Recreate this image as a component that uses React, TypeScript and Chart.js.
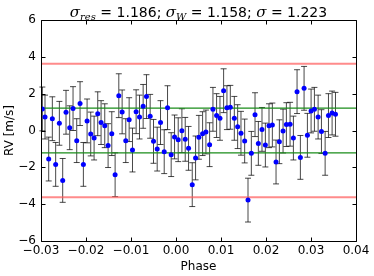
import { useEffect, useRef } from 'react';
import { Chart, registerables } from 'chart.js';
Chart.register(...registerables);

const PHASE = [
  -0.0297, -0.02911, -0.02829, -0.02748, -0.02674, -0.02592, -0.02518, -0.02444, -0.02362, -0.02288,
  -0.02206, -0.02132, -0.02058, -0.01976, -0.01895, -0.0182, -0.01739, -0.01665, -0.01583, -0.01509,
  -0.01427, -0.01353, -0.01271, -0.01197, -0.01116, -0.01041, -0.00967, -0.00886, -0.00811, -0.0073,
  -0.00656, -0.00574, -0.005, -0.00418, -0.00344, -0.00262, -0.00188, -0.00107, -0.00032, 0.00049,
  0.00131, 0.00205, 0.00279, 0.00361, 0.00435, 0.00509, 0.00591, 0.00665, 0.00747, 0.00821,
  0.00902, 0.00977, 0.01058, 0.01132, 0.01207, 0.01296, 0.0137, 0.01444, 0.01526, 0.016,
  0.01674, 0.01756, 0.0183, 0.01911, 0.01986, 0.02067, 0.02141, 0.02223, 0.02297, 0.02379,
  0.02453, 0.02535, 0.02609, 0.0269, 0.02764, 0.02846, 0.0292, 0.03002, 0.03076, 0.03158,
  0.03232, 0.03314, 0.03388, 0.03469, 0.03544,
];
const RV = [
  1.17, 0.73, -1.55, 0.64, -1.84, 0.39, -2.71, 0.99, 0.15, 1.19,
  -0.55, 1.46, -1.84, 0.52, -0.19, -0.41, 0.91, 0.43, 0.26, -0.82,
  -0.17, -2.4, 1.89, 1.01, -0.55, 0.59, -1.06, 1.02, 0.73, 1.31,
  1.84, 0.77, -0.59, -1.01, 0.43, -1.15, 1.24, -1.31, -0.35, -0.5,
  -0.01, -0.48, -0.97, -2.94, -1.49, -0.37, -0.17, -0.08, -0.77, 1.15,
  0.81, 0.66, 2.16, 1.24, 1.26, 0.66, 0.21, -0.15, -0.57, -3.78,
  -1.24, 0.86, -0.7, 0.06, -0.79, 0.26, 0.3, -1.71, -0.61, -0.03,
  0.32, 0.34, -0.41, 2.11, -1.46, 2.29, -0.26, 1.06, 1.15, 0.73,
  -0.06, -1.24, 0.81, 0.95, 0.88,
];
const RV_ERR = 1.19;
const SIGMA_LEVEL = 1.21;
const THREE_SIGMA_LEVEL = 3.63;
const X_RANGE = [-0.03, 0.04];
const Y_RANGE = [-6, 6];
const TITLE_PARTS = [
  { text: '\u03c3', kind: 'math' },
  { text: 'res', kind: 'sub' },
  { text: ' = 1.186; ', kind: 'plain' },
  { text: '\u03c3', kind: 'math' },
  { text: 'W', kind: 'sub' },
  { text: ' = 1.158; ', kind: 'plain' },
  { text: '\u03c3', kind: 'math' },
  { text: ' = 1.223', kind: 'plain' },
];

const minus = (s: string) => s.replace('-', '\u2212');

const errorBarPlugin = {
  id: 'errorBars',
  beforeDatasetsDraw(chart: any) {
    const { ctx, scales } = chart;
    const xs = scales.x;
    const ys = scales.y;
    ctx.save();
    ctx.strokeStyle = 'rgba(0,0,0,0.72)';
    ctx.lineWidth = 1;
    for (let i = 0; i < PHASE.length; i++) {
      const px = xs.getPixelForValue(PHASE[i]);
      const top = ys.getPixelForValue(RV[i] + RV_ERR);
      const bot = ys.getPixelForValue(RV[i] - RV_ERR);
      ctx.beginPath();
      ctx.moveTo(px, top);
      ctx.lineTo(px, bot);
      ctx.moveTo(px - 3, top);
      ctx.lineTo(px + 3, top);
      ctx.moveTo(px - 3, bot);
      ctx.lineTo(px + 3, bot);
      ctx.stroke();
    }
    ctx.restore();
  },
};

const framePlugin = {
  id: 'frame',
  afterDraw(chart: any) {
    const { ctx, chartArea: a, scales } = chart;
    ctx.save();
    ctx.strokeStyle = '#000';
    ctx.lineWidth = 1;
    ctx.beginPath();
    const L = Math.round(a.left) + 0.5;
    const R = Math.round(a.right) + 0.5;
    const T = Math.round(a.top) + 0.5;
    const B = Math.round(a.bottom) + 0.5;
    ctx.rect(L, T, R - L, B - T);
    scales.y.ticks.forEach((t: any) => {
      const p = Math.round(scales.y.getPixelForValue(t.value)) + 0.5;
      ctx.moveTo(L, p); ctx.lineTo(L + 4, p);
      ctx.moveTo(R, p); ctx.lineTo(R - 4, p);
    });
    scales.x.ticks.forEach((t: any) => {
      const p = Math.round(scales.x.getPixelForValue(t.value)) + 0.5;
      ctx.moveTo(p, B); ctx.lineTo(p, B - 4);
      ctx.moveTo(p, T); ctx.lineTo(p, T + 4);
    });
    ctx.stroke();

    const fonts: Record<string, string> = {
      math: 'italic 15px "DejaVu Serif"',
      sub: 'italic 10px "DejaVu Serif"',
      plain: '14px "DejaVu Sans"',
    };
    let total = 0;
    TITLE_PARTS.forEach((p) => {
      ctx.font = fonts[p.kind];
      total += ctx.measureText(p.text).width;
    });
    let x = (a.left + a.right) / 2 - total / 2;
    const base = 16.5;
    ctx.fillStyle = '#000';
    ctx.textBaseline = 'alphabetic';
    ctx.textAlign = 'left';
    TITLE_PARTS.forEach((p) => {
      ctx.font = fonts[p.kind];
      ctx.fillText(p.text, x, p.kind === 'sub' ? base + 3 : base);
      x += ctx.measureText(p.text).width;
    });
    ctx.restore();
  },
};

export default function App() {
  const ref = useRef<HTMLCanvasElement | null>(null);
  useEffect(() => {
    document.body.style.margin = '0';
    const canvas = ref.current;
    if (!canvas) return;
    const font = { family: '"DejaVu Sans"', size: 12 };
    const chart = new Chart(canvas, {
      type: 'scatter',
      data: {
        datasets: [
          {
            type: 'scatter',
            data: PHASE.map((p, i) => ({ x: p, y: RV[i] })),
            backgroundColor: '#0000ff',
            borderWidth: 0,
            pointRadius: 2.5,
            order: 0,
          },
          ...[SIGMA_LEVEL, -SIGMA_LEVEL].map((v) => ({
            type: 'line' as const,
            data: [{ x: X_RANGE[0], y: v }, { x: X_RANGE[1], y: v }],
            borderColor: '#1a8c1a',
            borderWidth: 1.3,
            pointRadius: 0,
            order: 1,
          })),
          ...[THREE_SIGMA_LEVEL, -THREE_SIGMA_LEVEL].map((v) => ({
            type: 'line' as const,
            data: [{ x: X_RANGE[0], y: v }, { x: X_RANGE[1], y: v }],
            borderColor: 'rgba(255,90,90,0.7)',
            borderWidth: 2,
            pointRadius: 0,
            order: 1,
          })),
        ],
      },
      options: {
        responsive: false,
        animation: false,
        layout: { padding: { top: 20, right: 18, left: 0, bottom: 0 } },
        plugins: { legend: { display: false }, tooltip: { enabled: false }, title: { display: false } },
        scales: {
          x: {
            type: 'linear',
            min: X_RANGE[0],
            max: X_RANGE[1],
            grid: { display: false, drawTicks: false },
            border: { display: false },
            ticks: {
              stepSize: 0.01,
              color: '#000',
              font,
              padding: 3,
              maxRotation: 0,
              callback: (v: any) => (Math.abs(v) < 1e-9 ? '0.00' : minus(Number(v).toFixed(2))),
            },
            title: { display: true, text: 'Phase', color: '#000', font, padding: { top: 0, bottom: 2 } },
            afterFit: (s: any) => { s.height = 35; },
          },
          y: {
            type: 'linear',
            min: Y_RANGE[0],
            max: Y_RANGE[1],
            grid: { display: false, drawTicks: false },
            border: { display: false },
            ticks: {
              stepSize: 2,
              color: '#000',
              font,
              padding: 5,
              callback: (v: any) => minus(String(v)),
            },
            title: { display: true, text: 'RV [m/s]', color: '#000', font, padding: { top: 3, bottom: 0 } },
            afterFit: (s: any) => { s.width = 41; },
          },
        },
      },
      plugins: [errorBarPlugin, framePlugin],
    } as any);
    return () => chart.destroy();
  }, []);
  return (
    <div style={{ position: 'absolute', left: 0, top: 0, width: 374, height: 276 }}>
      <canvas ref={ref} width={374} height={276} />
    </div>
  );
}
